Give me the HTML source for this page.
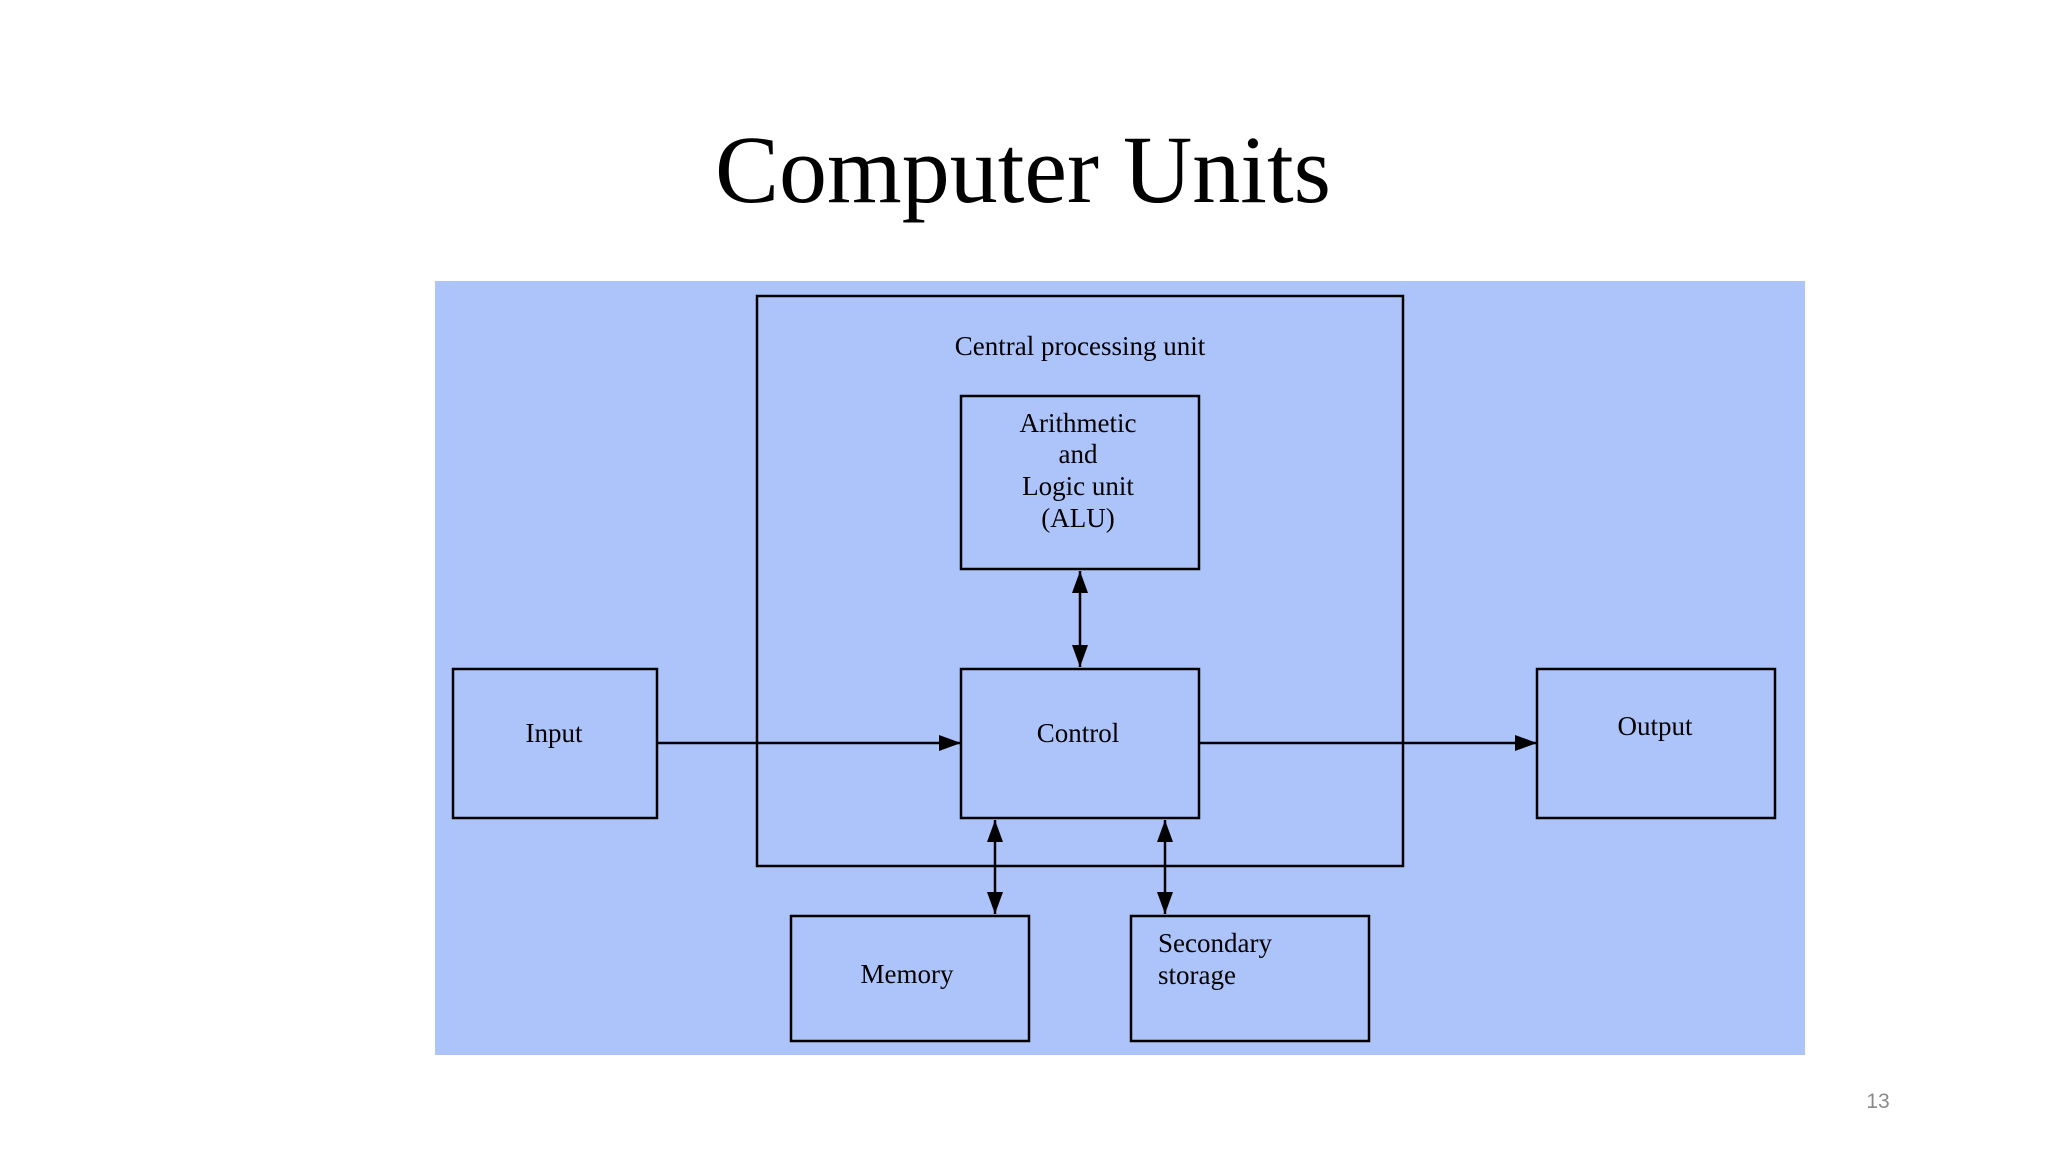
<!DOCTYPE html>
<html><head><meta charset="utf-8"><style>
html,body{margin:0;padding:0;background:#fff;}
svg{display:block;}
</style></head><body>
<svg width="2048" height="1152" viewBox="0 0 2048 1152" xmlns="http://www.w3.org/2000/svg">
<defs>
<marker id="a" viewBox="0 0 10 10" refX="10" refY="5" markerWidth="10" markerHeight="10" markerUnits="userSpaceOnUse" orient="auto-start-reverse">
<path d="M0,0 L10,5 L0,10 z" fill="#000"/></marker>
<marker id="b" viewBox="0 0 10 10" refX="10" refY="5" markerWidth="22" markerHeight="16" markerUnits="userSpaceOnUse" orient="auto-start-reverse" preserveAspectRatio="none">
<path d="M0,0 L10,5 L0,10 z" fill="#000"/></marker>
</defs>
<text x="1023" y="202" text-anchor="middle" font-family="Liberation Serif, serif" font-size="96" fill="#000">Computer Units</text>
<rect x="435" y="281" width="1370" height="774" fill="#adc4fb"/>
<g fill="none" stroke="#000" stroke-width="2.5">
<rect x="757" y="296" width="646" height="570"/>
<rect x="961" y="396" width="238" height="173"/>
<rect x="961" y="669" width="238" height="149"/>
<rect x="453" y="669" width="204" height="149"/>
<rect x="1537" y="669" width="238" height="149"/>
<rect x="791" y="916" width="238" height="125"/>
<rect x="1131" y="916" width="238" height="125"/>
<line x1="657" y1="743" x2="961" y2="743" marker-end="url(#b)"/>
<line x1="1199" y1="743" x2="1537" y2="743" marker-end="url(#b)"/>
<line x1="1080" y1="571" x2="1080" y2="667" marker-start="url(#b)" marker-end="url(#b)"/>
<line x1="995" y1="820" x2="995" y2="914" marker-start="url(#b)" marker-end="url(#b)"/>
<line x1="1165" y1="820" x2="1165" y2="914" marker-start="url(#b)" marker-end="url(#b)"/>
</g>
<g font-family="Liberation Serif, serif" font-size="27" fill="#000" text-anchor="middle">
<text x="1080" y="355">Central processing unit</text>
<text x="1078" y="432">Arithmetic</text>
<text x="1078" y="463">and</text>
<text x="1078" y="495">Logic unit</text>
<text x="1078" y="527">(ALU)</text>
<text x="1078" y="742">Control</text>
<text x="554" y="742">Input</text>
<text x="1655" y="735">Output</text>
<text x="907" y="983">Memory</text>
<text x="1158" y="952" text-anchor="start">Secondary</text>
<text x="1158" y="984" text-anchor="start">storage</text>
</g>
<text x="1878" y="1108" text-anchor="middle" font-family="Liberation Sans, sans-serif" font-size="21" fill="#8a8a8a">13</text>
</svg>
</body></html>
